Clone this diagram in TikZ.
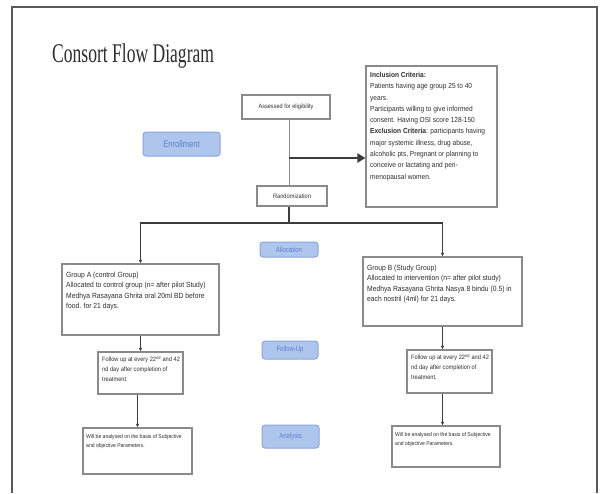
\documentclass[tikz,border=0pt]{standalone}
\usepackage{fontspec}
\setmainfont{Liberation Sans}
\newfontfamily\narrowsans[FakeStretch=0.9]{Liberation Sans}
\newfontfamily\bluesans[FakeStretch=0.8]{Liberation Sans}
\newfontfamily\titlefont[FakeStretch=0.65]{Liberation Serif}
\usetikzlibrary{arrows.meta}
\definecolor{boxgray}{HTML}{8A8A8A}
\definecolor{linegray}{HTML}{3C3C3C}
\definecolor{textgray}{HTML}{2E2E2E}
\definecolor{framegray}{HTML}{5A5A5A}
\definecolor{bluefill}{HTML}{AEC6EE}
\definecolor{bluedraw}{HTML}{8AA6DA}
\definecolor{bluetext}{HTML}{5B80C8}
\begin{document}
\begin{tikzpicture}[x=1pt,y=-1pt,
  box/.style={draw=boxgray, line width=1.1pt, inner sep=0pt, fill=white},
  txt/.style={anchor=north west, inner sep=0pt, align=left, text=textgray},
  blue/.style={draw=bluedraw, line width=1pt, fill=bluefill, rounded corners=3pt, inner sep=0pt, text=bluetext, font=\bluesans\fontsize{7.5}{8}\selectfont},
  conn/.style={draw=linegray, line width=1.3pt},
  arr/.style={conn, -{Latex[length=3.5pt,width=3.5pt]}}
]
\useasboundingbox (0,0) rectangle (602,493);
\fill[white] (0,0) rectangle (602,493);
% frame
\draw[framegray, line width=1.3pt] (12,493) -- (12,7) -- (597,7) -- (597,493);

% title
\node[anchor=base west, inner sep=0pt, text=textgray, font=\titlefont\fontsize{27}{30}\selectfont] (title) at (52,62) {Consort Flow Diagram};

% blue stage labels
\node[blue, minimum width=77pt, minimum height=24pt, font=\bluesans\fontsize{9.5}{10}\selectfont] (enroll) at (181.5,144) {Enrollment};
\node[blue, minimum width=58pt, minimum height=15pt] (alloc) at (289,249.5) {Allocation};
\node[blue, minimum width=56pt, minimum height=18pt] (follow) at (290,350) {Follow-Up};
\node[blue, minimum width=57pt, minimum height=23pt] (analysis) at (290.5,436.5) {Analysis};

% main boxes
\node[box, minimum width=88pt, minimum height=24pt, text=textgray, font=\narrowsans\fontsize{6.2}{7}\selectfont] (assess) at (286,107) {Assessed for eligibility};
\node[box, minimum width=70pt, minimum height=20pt, text=textgray, font=\narrowsans\fontsize{6.3}{7}\selectfont] (random) at (292,196) {Randomization};

\node[box, minimum width=131pt, minimum height=141pt] (incl) at (431.5,136.5) {};
\node[txt, font=\narrowsans\fontsize{7.3}{11.3}\selectfont] (incltxt) at (370,72) {%
\textbf{Inclusion Criteria:}\\
Patients having age group 25 to 40\\
years.\\
Participants willing to give informed\\
consent. Having OSI score 128-150\\
\textbf{Exclusion Criteria}: participants having\\
major systemic illness, drug abuse,\\
alcoholic pts, Pregnant or planning to\\
conceive or lactating and peri-\\
menopausal women.};

\node[box, minimum width=157pt, minimum height=71pt] (groupA) at (140.5,299.5) {};
\node[txt, font=\narrowsans\fontsize{7.5}{10.3}\selectfont] (groupAtxt) at (66,272) {%
Group A (control Group)\\
Allocated to control group (n= after pilot Study)\\
Medhya Rasayana Ghrita oral 20ml BD before\\
food. for 21 days.};

\node[box, minimum width=159pt, minimum height=69pt] (groupB) at (442.5,291.5) {};
\node[txt, font=\narrowsans\fontsize{7.5}{10.3}\selectfont] (groupBtxt) at (367,265) {%
Group B (Study Group)\\
Allocated to intervention (n= after pilot study)\\
Medhya Rasayana Ghrita Nasya 8 bindu (0.5) in\\
each nostril (4ml) for 21 days.};

\node[box, minimum width=85pt, minimum height=42pt] (fuA) at (140.5,373) {};
\node[txt, font=\narrowsans\fontsize{6.3}{10}\selectfont] (fuAtxt) at (102,356) {%
Follow up at every 22\textsuperscript{nd} and 42\\
nd day after completion of\\
treatment.};

\node[box, minimum width=85pt, minimum height=43pt] (fuB) at (449.5,371.5) {};
\node[txt, font=\narrowsans\fontsize{6.3}{10}\selectfont] (fuBtxt) at (411,354) {%
Follow up at every 22\textsuperscript{nd} and 42\\
nd day after completion of\\
treatment.};

\node[box, minimum width=109pt, minimum height=46pt] (anA) at (137.5,451) {};
\node[txt, font=\narrowsans\fontsize{5.6}{9.5}\selectfont] (anAtxt) at (86,434) {%
Will be analysed on the basis of Subjective\\
and objective Parameters.};

\node[box, minimum width=108pt, minimum height=41pt] (anB) at (446,446.5) {};
\node[txt, font=\narrowsans\fontsize{5.6}{9.5}\selectfont] (anBtxt) at (395,432) {%
Will be analysed on the basis of Subjective\\
and objective Parameters.};

% connectors
\coordinate (branch) at (289,158);
\coordinate (split) at (289,223);
\draw[draw=boxgray, line width=1pt] (assess.south -| branch) -- (random.north -| branch);
\draw[linegray, line width=2.4pt, -{Triangle[length=8pt,width=9pt]}] (branch) -- (branch -| incl.west);
\draw[conn] (random.south -| split) -- (split);
\draw[arr] (split) -| (groupA.north);
\draw[arr] (split) -| (groupB.north);
\draw[arr] (groupA.south) -- (groupA.south |- fuA.north);
\draw[arr] (fuA.south -| anA) -- (anA.north);
\draw[arr] (groupB.south) -- (groupB.south |- fuB.north);
\draw[arr] (fuB.south -| groupB) -- (groupB.south |- anB.north);
\end{tikzpicture}
\end{document}
